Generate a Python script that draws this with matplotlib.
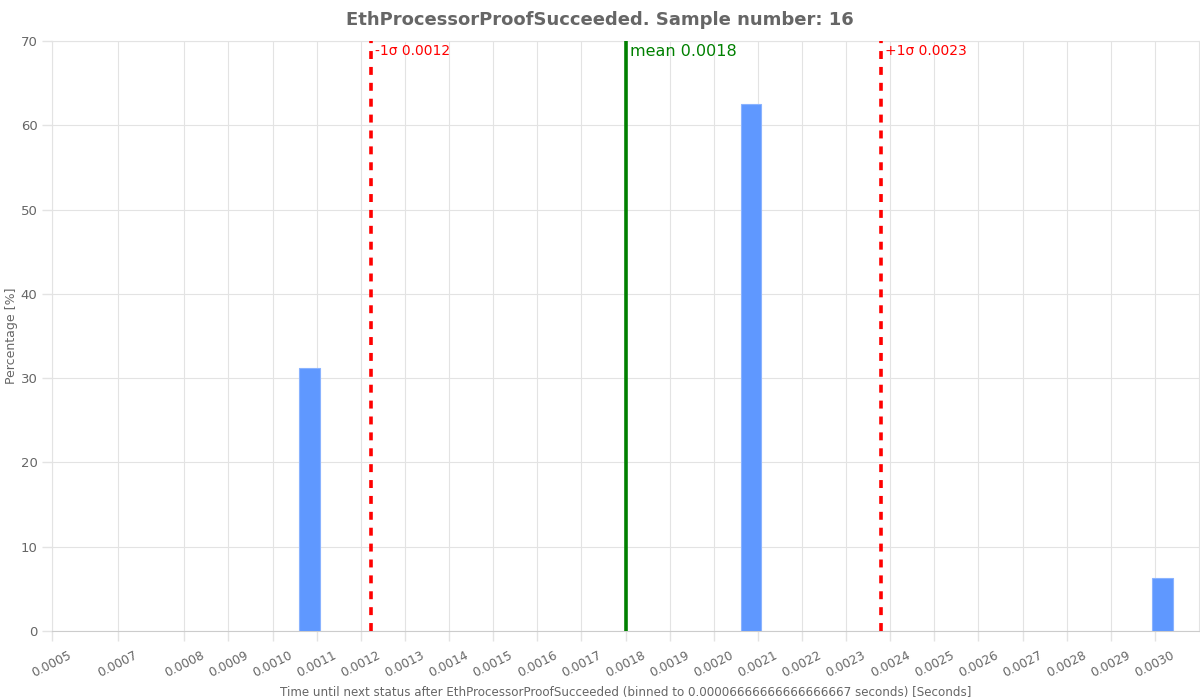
import matplotlib
matplotlib.use("Agg")
import matplotlib.pyplot as plt

# histogram of 16 samples, 30 bins, drawn with rwidth 0.7
bin_width = 0.00006666666666666667
bar_centers = [0.001084, 0.002084, 0.003017]
bar_percent = [31.25, 62.5, 6.25]

mean_val = 0.0018
minus_sigma = 0.001223
plus_sigma = 0.002378
mean_label = "mean 0.0018"
minus_label = "-1σ 0.0012"
plus_label = "+1σ 0.0023"

x_ticks = [0.0005, 0.00065] + [round(0.0008 + 0.0001 * i, 4) for i in range(23)]
x_tick_labels = ["0.0005", "0.0007"] + ["%.4f" % t for t in x_ticks[2:]]
y_ticks = [0, 10, 20, 30, 40, 50, 60, 70]

grey = "#666666"
grid_col = "#e3e3e3"

fig = plt.figure(figsize=(12, 7), dpi=100)
ax = fig.add_axes([0.0433, 0.0986, 0.9559, 0.8428])

ax.bar(bar_centers, bar_percent, width=bin_width * 0.7, color="#5f98ff",
       edgecolor="#8ab3ff", linewidth=0.8, zorder=3)

ax.axvline(mean_val, color="green", linewidth=2.6, zorder=4)
ax.axvline(minus_sigma, color="red", linewidth=2.6, linestyle=(0, (2.2, 2.2)), zorder=4)
ax.axvline(plus_sigma, color="red", linewidth=2.6, linestyle=(0, (2.2, 2.2)), zorder=4)

ax.text(mean_val + 0.00001, 69.6, mean_label, color="green", fontsize=11.5, va="top", ha="left")
ax.text(minus_sigma + 0.00001, 69.6, minus_label, color="red", fontsize=10, va="top", ha="left")
ax.text(plus_sigma + 0.00001, 69.6, plus_label, color="red", fontsize=10, va="top", ha="left")

ax.set_xlim(0.0005, 0.0031)
ax.set_ylim(0, 70)
ax.set_xticks(x_ticks)
ax.set_xticklabels(x_tick_labels, rotation=27, fontsize=8.8, color=grey)
ax.set_yticks(y_ticks)
ax.set_yticklabels([str(v) for v in y_ticks], fontsize=9.5, color=grey)
ax.tick_params(axis="both", length=7, color=grid_col, width=1)
ax.tick_params(axis="x", pad=6)
ax.grid(True, color=grid_col, linewidth=0.8, zorder=0)
ax.set_axisbelow(True)
for side in ["top", "right", "left"]:
    ax.spines[side].set_color(grid_col)
ax.spines["bottom"].set_color("#cccccc")

fig.text(0.5, 1 - 20 / 700, "EthProcessorProofSucceeded. Sample number: 16", fontsize=13,
         fontweight="bold", color=grey, ha="center", va="center")
ax.set_xlabel("Time until next status after EthProcessorProofSucceeded (binned to "
              "0.00006666666666666667 seconds) [Seconds]", fontsize=8.6, color=grey, labelpad=4)
fig.text(12 / 1200, 1 - 336 / 700, "Percentage [%]", fontsize=9, color=grey,
         rotation=90, ha="center", va="center")

fig.savefig("out.png", dpi=100)
